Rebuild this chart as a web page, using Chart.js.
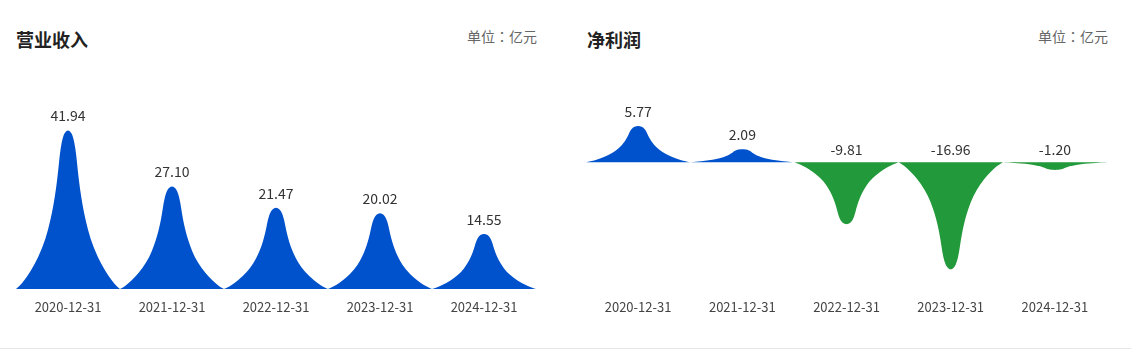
<!DOCTYPE html>
<html><head><meta charset="utf-8">
<script src="https://cdn.jsdelivr.net/npm/chart.js@4"></script>
<style>
html,body{margin:0;padding:0;}
body{width:1131px;height:357px;background:#fff;position:relative;overflow:hidden;font-family:"Noto Sans CJK SC","Noto Sans",sans-serif;}
.title{position:absolute;top:27px;font-size:18px;font-weight:bold;color:#222;line-height:24px;white-space:nowrap;}
.unit{position:absolute;top:26px;font-size:14px;color:#666;line-height:20px;white-space:nowrap;}
.unit span{font-family:"Noto Sans CJK JP",sans-serif;}
canvas{position:absolute;top:0;}
.line{position:absolute;left:0;top:348px;width:1131px;height:1px;background:#e6e6e6;}
</style></head>
<body>
<div class="title" style="left:16px">营业收入</div>
<div class="unit" style="right:594px">单位<span>：</span>亿元</div>
<div class="title" style="left:587px">净利润</div>
<div class="unit" style="right:23px">单位<span>：</span>亿元</div>
<canvas id="c1" width="552" height="338" style="left:0px"></canvas>
<canvas id="c2" width="561" height="338" style="left:570px"></canvas>
<div class="line"></div>
<script>
// ---- data ----
const categories = ['2020-12-31','2021-12-31','2022-12-31','2023-12-31','2024-12-31'];
const revenue = [41.94, 27.10, 21.47, 20.02, 14.55];
const netProfit = [5.77, 2.09, -9.81, -16.96, -1.20];
const revenueRange = [0, 50];
const profitRange = [-20, 10];

// ---- style ----
const FONT = '"Noto Sans CJK SC","Noto Sans",sans-serif';
const BLUE = '#0052CC';
const GREEN = '#22993A';
// spike profile: [distance from centre (0..1 of half width), height fraction]
const PROFILE = [[0,1],[0.07,0.98],[0.12,0.926],[0.16,0.84],[0.19,0.736],[0.23,0.63],[0.28,0.525],[0.34,0.43],[0.43,0.315],[0.57,0.2],[0.72,0.11],[0.85,0.05],[0.93,0.02],[1,0]];

const spikePlugin = {
  id: 'spikes',
  beforeDatasetDraw() { return false; },
  afterDatasetsDraw(chart) {
    const ctx = chart.ctx;
    const meta = chart.getDatasetMeta(0);
    const data = chart.data.datasets[0].data;
    meta.data.forEach((el, i) => {
      const v = data[i];
      const cx = el.x, top = el.y, base = el.base;
      const half = el.width / 2;
      const h = top - base;
      const pts = [];
      for (let k = PROFILE.length - 1; k >= 0; k--) pts.push([cx - PROFILE[k][0] * half, base + PROFILE[k][1] * h]);
      for (let k = 1; k < PROFILE.length; k++) pts.push([cx + PROFILE[k][0] * half, base + PROFILE[k][1] * h]);
      ctx.save();
      ctx.fillStyle = v >= 0 ? BLUE : GREEN;
      ctx.beginPath();
      ctx.moveTo(pts[0][0], pts[0][1]);
      for (let k = 1; k < pts.length - 1; k++) {
        const mx = (pts[k][0] + pts[k + 1][0]) / 2, my = (pts[k][1] + pts[k + 1][1]) / 2;
        ctx.quadraticCurveTo(pts[k][0], pts[k][1], mx, my);
      }
      ctx.lineTo(pts[pts.length - 1][0], pts[pts.length - 1][1]);
      ctx.closePath();
      ctx.fill();
      // value label
      ctx.fillStyle = '#333';
      ctx.font = '14px ' + FONT;
      ctx.textAlign = 'center';
      ctx.textBaseline = 'middle';
      const ly = v >= 0 ? top - 14 : base - 13;
      ctx.fillText(v.toFixed(2), cx, ly);
      ctx.restore();
    });
  }
};

function makeChart(id, values, range, padRight) {
  return new Chart(document.getElementById(id), {
    type: 'bar',
    data: { labels: categories, datasets: [{ data: values, barPercentage: 1, categoryPercentage: 1, backgroundColor: BLUE }] },
    options: {
      responsive: false,
      animation: false,
      devicePixelRatio: 1,
      layout: { padding: { left: 16, right: padRight, top: 99, bottom: 13.4 } },
      plugins: { legend: { display: false }, tooltip: { enabled: false } },
      scales: {
        x: {
          grid: { display: false, drawTicks: false },
          border: { display: false },
          ticks: { color: '#444', font: { size: 13, family: FONT }, padding: 10, maxRotation: 0, autoSkip: false }
        },
        y: { display: false, min: range[0], max: range[1] }
      }
    },
    plugins: [spikePlugin]
  });
}
makeChart('c1', revenue, revenueRange, 16);
makeChart('c2', netProfit, profitRange, 24);
</script>
</body></html>
